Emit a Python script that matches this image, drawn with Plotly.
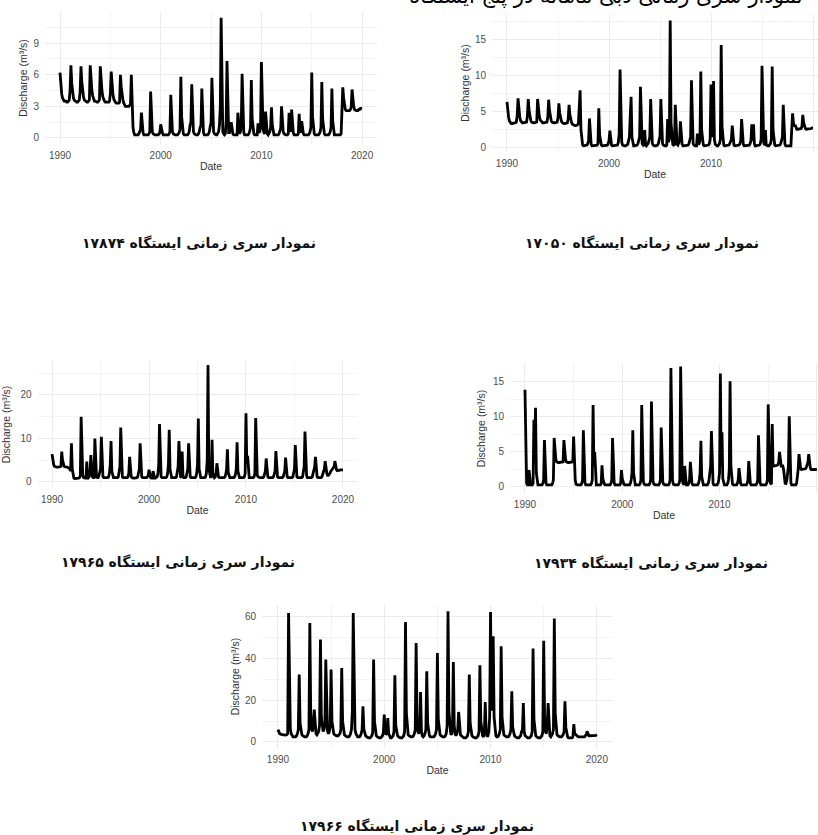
import plotly.graph_objects as go

W, H = 818, 835

# Monthly discharge (m³/s), one row per year 1990..2019 (Jan..Dec), plus Jan 2020
q_17874 = [
    [6.2, 5.0, 4.2, 3.8, 3.6, 3.5, 3.5, 3.5, 3.4, 3.4, 3.5, 3.6],
    [4.5, 6.9, 5.2, 4.3, 3.8, 3.6, 3.5, 3.5, 3.4, 3.4, 3.5, 3.6],
    [4.4, 6.8, 5.3, 4.4, 3.9, 3.6, 3.5, 3.5, 3.4, 3.4, 3.5, 3.6],
    [6.9, 5.4, 4.5, 4.0, 3.7, 3.5, 3.5, 3.4, 3.4, 3.4, 3.5, 3.6],
    [6.8, 5.4, 4.5, 3.9, 3.6, 3.5, 3.4, 3.4, 3.4, 3.4, 3.4, 3.5],
    [4.2, 6.3, 5.0, 4.2, 3.7, 3.5, 3.4, 3.3, 3.3, 3.3, 3.3, 3.4],
    [6.0, 4.8, 4.0, 3.6, 3.3, 3.1, 3.0, 3.0, 3.0, 3.0, 3.0, 3.1],
    [3.2, 6.0, 2.5, 1.0, 0.5, 0.3, 0.3, 0.3, 0.3, 0.3, 0.4, 0.6],
    [0.8, 2.4, 1.2, 0.5, 0.3, 0.3, 0.3, 0.3, 0.3, 0.3, 0.4, 0.6],
    [4.4, 1.5, 0.6, 0.4, 0.3, 0.3, 0.3, 0.3, 0.3, 0.3, 0.4, 0.5],
    [1.3, 0.8, 0.5, 0.3, 0.3, 0.3, 0.3, 0.3, 0.3, 0.3, 0.4, 0.6],
    [4.1, 1.6, 0.6, 0.4, 0.3, 0.3, 0.3, 0.3, 0.3, 0.4, 0.5, 0.8],
    [5.8, 2.0, 0.8, 0.4, 0.3, 0.3, 0.3, 0.3, 0.3, 0.4, 0.6, 1.2],
    [1.5, 5.1, 1.4, 0.6, 0.4, 0.3, 0.3, 0.3, 0.3, 0.4, 0.6, 1.0],
    [1.2, 4.7, 1.3, 0.5, 0.3, 0.3, 0.3, 0.3, 0.3, 0.4, 0.6, 1.1],
    [1.4, 5.7, 1.6, 0.6, 0.4, 0.3, 0.3, 0.3, 0.4, 0.6, 1.2, 2.9],
    [11.4, 2.0, 0.6, 0.4, 0.3, 0.4, 1.5, 7.3, 1.2, 0.5, 0.5, 0.8],
    [1.5, 0.8, 0.4, 0.3, 0.3, 0.3, 0.3, 0.3, 2.4, 0.6, 0.4, 0.6],
    [1.2, 6.1, 1.4, 0.5, 0.3, 0.3, 0.3, 0.3, 0.3, 0.4, 0.6, 1.0],
    [5.5, 1.8, 0.6, 0.4, 0.3, 0.3, 0.3, 0.3, 1.4, 0.5, 0.6, 1.2],
    [7.2, 2.2, 0.8, 0.5, 0.4, 2.5, 0.8, 0.4, 0.3, 0.4, 0.6, 1.0],
    [2.9, 1.2, 0.5, 0.3, 0.3, 0.3, 0.3, 0.3, 0.3, 0.4, 0.6, 0.9],
    [3.0, 1.4, 0.6, 0.4, 0.3, 0.3, 0.3, 0.3, 0.4, 2.4, 0.8, 0.6],
    [2.7, 1.2, 0.5, 0.3, 0.3, 0.3, 0.3, 0.3, 0.4, 2.3, 0.8, 0.5],
    [1.6, 0.7, 0.4, 0.3, 0.3, 0.3, 0.3, 0.3, 0.3, 0.4, 0.6, 1.0],
    [6.2, 2.0, 0.7, 0.4, 0.3, 0.3, 0.3, 0.3, 0.3, 0.4, 0.6, 1.0],
    [5.3, 1.8, 0.6, 0.4, 0.3, 0.3, 0.3, 0.3, 0.3, 0.4, 0.6, 1.0],
    [4.7, 1.6, 0.6, 0.3, 0.3, 0.3, 0.3, 0.3, 0.3, 0.3, 0.3, 0.4],
    [2.8, 4.8, 3.8, 3.0, 2.7, 2.6, 2.6, 2.6, 2.6, 2.6, 2.7, 2.9],
    [4.6, 3.6, 3.0, 2.7, 2.6, 2.6, 2.6, 2.6, 2.7, 2.7, 2.8, 2.8],
]
q_17874_last = 2.8

q_17050 = [
    [6.4, 5.0, 4.2, 3.7, 3.5, 3.4, 3.4, 3.4, 3.4, 3.4, 3.5, 3.6],
    [4.5, 6.9, 5.3, 4.3, 3.8, 3.6, 3.5, 3.5, 3.5, 3.5, 3.5, 3.6],
    [4.4, 6.8, 5.2, 4.3, 3.8, 3.6, 3.5, 3.5, 3.5, 3.5, 3.5, 3.6],
    [6.8, 5.3, 4.4, 3.9, 3.7, 3.6, 3.5, 3.5, 3.5, 3.5, 3.5, 3.6],
    [4.3, 6.7, 5.2, 4.3, 3.8, 3.6, 3.5, 3.5, 3.5, 3.5, 3.5, 3.6],
    [4.2, 6.2, 4.9, 4.1, 3.7, 3.5, 3.4, 3.4, 3.4, 3.4, 3.4, 3.5],
    [4.0, 6.0, 4.6, 3.9, 3.5, 3.3, 3.2, 3.1, 3.1, 3.1, 3.1, 3.2],
    [3.4, 5.5, 8.0, 2.5, 0.8, 0.4, 0.3, 0.3, 0.3, 0.3, 0.4, 0.6],
    [1.0, 4.1, 1.2, 0.5, 0.3, 0.3, 0.3, 0.3, 0.3, 0.3, 0.4, 0.6],
    [5.5, 1.8, 0.6, 0.4, 0.3, 0.3, 0.3, 0.3, 0.3, 0.3, 0.4, 0.6],
    [1.0, 2.4, 0.8, 0.4, 0.3, 0.3, 0.3, 0.3, 0.3, 0.3, 0.4, 0.8],
    [2.0, 10.9, 6.0, 0.8, 0.4, 0.3, 0.3, 0.3, 0.3, 0.4, 0.5, 1.2],
    [1.5, 4.5, 7.1, 1.5, 0.5, 0.3, 0.3, 0.3, 0.3, 0.4, 0.6, 1.0],
    [1.5, 8.5, 2.0, 0.6, 0.4, 0.3, 2.5, 0.5, 0.3, 0.4, 0.6, 1.0],
    [1.5, 6.8, 1.8, 0.6, 0.4, 0.3, 0.3, 0.3, 0.3, 0.4, 0.6, 1.0],
    [1.6, 6.8, 1.8, 0.6, 0.4, 0.3, 0.3, 0.3, 0.4, 4.0, 0.8, 1.2],
    [17.7, 3.5, 1.0, 0.5, 0.4, 0.5, 6.0, 1.2, 0.5, 0.4, 0.6, 1.0],
    [3.7, 1.2, 0.5, 0.3, 0.3, 0.3, 0.3, 0.3, 0.3, 0.4, 0.6, 1.0],
    [1.5, 9.4, 2.0, 0.6, 0.4, 0.3, 0.3, 0.3, 2.0, 0.5, 0.6, 1.0],
    [10.6, 2.5, 0.8, 0.4, 0.3, 0.3, 0.3, 0.3, 0.3, 0.4, 0.6, 1.2],
    [8.8, 2.5, 1.5, 9.3, 1.2, 0.5, 0.3, 0.3, 0.3, 0.4, 0.6, 1.2],
    [14.3, 3.0, 0.8, 0.4, 0.3, 0.3, 0.3, 0.3, 0.3, 0.4, 0.6, 1.0],
    [1.2, 3.1, 1.0, 0.4, 0.3, 0.3, 0.3, 0.3, 0.3, 0.4, 0.6, 1.0],
    [4.0, 1.4, 0.5, 0.3, 0.3, 0.3, 0.3, 0.3, 0.3, 0.4, 0.6, 1.0],
    [3.3, 1.0, 3.3, 0.6, 0.3, 0.3, 0.3, 0.3, 0.3, 0.4, 0.6, 1.2],
    [11.4, 2.5, 0.8, 0.4, 2.5, 0.4, 0.3, 0.3, 0.3, 0.4, 0.6, 1.2],
    [11.3, 2.5, 0.8, 0.4, 0.3, 0.3, 0.3, 0.3, 0.3, 0.4, 0.6, 1.0],
    [1.5, 6.0, 1.5, 0.5, 0.3, 0.3, 0.3, 0.3, 0.3, 0.3, 0.3, 2.6],
    [4.8, 3.5, 3.0, 3.2, 2.7, 2.6, 2.6, 2.6, 2.6, 2.6, 2.7, 3.0],
    [4.6, 3.5, 2.9, 2.7, 2.6, 2.6, 2.6, 2.7, 2.7, 2.7, 2.7, 2.8],
]
q_17050_last = 2.8

q_17965 = [
    [6.4, 5.0, 4.0, 3.6, 3.5, 3.4, 3.4, 3.4, 3.4, 3.4, 3.5, 3.6],
    [7.0, 5.0, 4.0, 3.6, 3.5, 3.4, 3.4, 3.4, 3.3, 3.2, 3.0, 2.5],
    [8.9, 3.0, 1.2, 0.9, 0.8, 0.8, 0.8, 0.8, 0.8, 0.9, 1.0, 1.5],
    [15.0, 4.0, 1.5, 1.0, 0.9, 0.9, 0.9, 4.7, 1.5, 1.0, 1.2, 2.0],
    [6.2, 3.0, 1.2, 1.0, 1.0, 10.0, 2.0, 1.2, 1.0, 1.0, 1.5, 2.5],
    [3.0, 10.4, 3.0, 1.2, 1.0, 1.0, 1.0, 1.0, 1.0, 1.0, 1.2, 2.0],
    [4.0, 9.4, 2.5, 1.2, 1.0, 1.0, 1.0, 1.0, 1.0, 1.0, 1.2, 2.0],
    [3.5, 12.5, 3.0, 1.2, 1.0, 1.0, 1.0, 1.0, 1.0, 1.0, 1.2, 2.0],
    [5.8, 2.5, 1.2, 1.0, 0.9, 0.9, 0.9, 0.9, 0.9, 1.0, 1.2, 2.0],
    [3.0, 8.9, 2.5, 1.2, 1.0, 1.0, 1.0, 1.0, 1.0, 1.0, 1.2, 1.5],
    [2.8, 1.5, 1.0, 0.9, 0.9, 2.5, 1.2, 0.9, 0.9, 1.0, 1.2, 1.8],
    [4.0, 13.3, 3.0, 1.2, 1.0, 1.0, 1.0, 1.0, 1.0, 1.0, 1.2, 2.0],
    [4.0, 12.0, 3.0, 1.2, 1.0, 1.0, 1.0, 1.0, 1.0, 1.0, 1.2, 2.0],
    [3.5, 9.4, 2.5, 1.2, 1.0, 7.0, 1.5, 1.0, 1.0, 1.0, 1.2, 2.0],
    [3.0, 8.9, 2.5, 1.2, 1.0, 1.0, 1.0, 1.0, 1.0, 1.0, 1.2, 2.0],
    [4.0, 14.6, 3.0, 1.2, 1.0, 1.0, 1.0, 1.0, 1.0, 1.0, 1.2, 2.0],
    [5.0, 26.9, 3.0, 1.5, 1.2, 1.2, 9.7, 2.0, 1.2, 1.0, 1.2, 2.0],
    [4.3, 2.5, 1.2, 1.0, 1.0, 1.0, 1.0, 1.0, 1.0, 1.0, 1.2, 1.8],
    [3.0, 7.5, 2.2, 1.2, 1.0, 1.0, 1.0, 1.0, 1.0, 1.0, 1.2, 1.8],
    [3.0, 9.1, 2.5, 1.2, 1.0, 1.0, 1.0, 1.0, 1.0, 1.0, 1.2, 2.0],
    [15.8, 4.5, 6.0, 1.5, 1.0, 1.0, 1.0, 1.0, 1.0, 1.0, 1.2, 2.0],
    [14.7, 4.0, 1.5, 1.2, 1.0, 1.0, 1.0, 1.0, 1.0, 1.0, 1.2, 2.0],
    [2.5, 5.4, 2.0, 1.2, 1.0, 1.0, 1.0, 1.0, 1.0, 1.0, 1.2, 2.0],
    [2.5, 7.1, 2.0, 1.2, 1.0, 1.0, 1.0, 1.0, 1.0, 1.0, 1.2, 1.8],
    [2.5, 5.6, 2.0, 1.2, 1.0, 1.0, 1.0, 1.0, 1.0, 1.0, 1.2, 2.0],
    [3.0, 8.5, 2.5, 1.2, 1.0, 1.0, 1.0, 1.0, 1.0, 1.0, 1.2, 2.0],
    [3.5, 11.6, 4.0, 1.5, 1.0, 1.0, 1.0, 1.0, 1.0, 1.0, 1.2, 2.0],
    [2.5, 3.5, 5.8, 2.0, 1.2, 1.0, 1.0, 1.0, 1.0, 1.0, 1.2, 2.0],
    [2.5, 3.0, 4.8, 3.0, 2.0, 1.5, 1.5, 1.8, 2.0, 2.5, 2.8, 3.0],
    [3.2, 3.5, 4.8, 3.5, 2.8, 2.6, 2.6, 2.6, 2.7, 2.8, 2.8, 2.8],
]
q_17965_last = 2.8

q_17934 = [
    [13.9, 3.0, 0.5, 0.3, 0.3, 2.4, 0.5, 0.3, 0.3, 0.3, 0.5, 9.6],
    [5.0, 11.3, 2.0, 0.6, 0.3, 0.3, 0.3, 0.3, 0.3, 0.3, 0.5, 1.0],
    [6.7, 1.5, 0.5, 0.3, 0.3, 0.3, 0.3, 0.3, 0.3, 0.3, 0.5, 1.0],
    [7.0, 5.0, 4.0, 3.6, 3.5, 3.5, 3.5, 3.5, 3.5, 3.5, 3.5, 3.6],
    [6.7, 5.0, 4.0, 3.6, 3.5, 3.5, 3.5, 3.5, 3.5, 3.5, 3.5, 3.6],
    [7.2, 3.0, 1.0, 0.4, 0.3, 0.3, 0.3, 0.3, 0.3, 0.3, 0.5, 1.0],
    [8.1, 2.0, 0.6, 0.3, 0.3, 0.3, 0.3, 0.3, 0.3, 0.3, 0.5, 1.0],
    [11.7, 3.0, 5.0, 0.8, 0.3, 0.3, 0.3, 0.3, 0.3, 0.3, 0.5, 3.1],
    [1.2, 0.6, 0.4, 0.3, 0.3, 0.3, 0.3, 0.3, 0.3, 0.3, 0.5, 1.0],
    [7.0, 1.8, 0.6, 0.3, 0.3, 0.3, 0.3, 0.3, 0.3, 0.3, 0.5, 2.4],
    [1.2, 0.6, 0.4, 0.3, 0.3, 0.3, 0.3, 0.3, 0.3, 0.3, 0.5, 1.0],
    [2.0, 8.1, 2.0, 0.6, 0.3, 0.3, 0.3, 0.3, 0.3, 0.3, 0.5, 1.0],
    [11.7, 2.5, 0.8, 0.4, 0.3, 0.3, 0.3, 0.3, 0.3, 0.3, 0.5, 1.0],
    [12.2, 2.5, 0.8, 0.4, 0.3, 0.3, 0.3, 0.3, 0.3, 0.3, 0.5, 1.0],
    [8.5, 2.0, 0.7, 0.4, 0.3, 0.3, 0.3, 0.3, 0.3, 0.3, 0.5, 1.0],
    [17.0, 3.5, 1.0, 0.4, 0.3, 0.3, 0.3, 0.3, 0.3, 0.3, 0.5, 1.0],
    [17.2, 3.5, 1.0, 0.5, 0.3, 3.0, 0.8, 0.3, 0.3, 0.3, 0.5, 1.0],
    [3.6, 1.2, 0.5, 0.3, 0.3, 0.3, 0.3, 0.3, 0.3, 0.3, 0.5, 1.0],
    [2.0, 6.6, 1.5, 0.5, 0.3, 0.3, 0.3, 0.3, 0.3, 0.3, 0.5, 1.0],
    [2.0, 3.0, 8.0, 1.5, 0.5, 0.3, 0.3, 0.3, 0.3, 0.3, 0.5, 1.0],
    [2.0, 16.2, 3.0, 7.8, 1.2, 0.4, 0.3, 0.3, 0.3, 0.3, 0.5, 1.0],
    [2.5, 15.1, 3.0, 0.8, 0.4, 0.3, 0.3, 0.3, 0.3, 0.3, 0.5, 1.0],
    [2.7, 1.2, 0.5, 0.3, 0.3, 0.3, 0.3, 0.3, 0.3, 0.3, 0.5, 1.0],
    [3.7, 1.2, 0.5, 0.3, 0.3, 0.3, 0.3, 0.3, 0.3, 0.3, 0.5, 1.0],
    [7.4, 2.0, 0.6, 0.3, 0.3, 0.3, 0.3, 0.3, 0.3, 0.3, 0.5, 1.0],
    [11.8, 3.0, 1.0, 0.5, 0.4, 9.0, 3.0, 3.0, 3.0, 3.0, 3.0, 3.1],
    [3.2, 3.5, 5.0, 3.5, 3.0, 3.0, 3.0, 2.5, 1.0, 0.4, 0.5, 1.0],
    [2.0, 3.0, 10.1, 2.0, 0.6, 0.3, 0.3, 0.3, 0.3, 0.3, 0.3, 0.5],
    [1.5, 2.5, 4.7, 3.2, 2.7, 2.5, 2.5, 2.5, 2.5, 2.5, 2.6, 2.8],
    [3.2, 3.5, 4.7, 3.3, 2.7, 2.5, 2.5, 2.5, 2.5, 2.5, 2.5, 2.5],
]
q_17934_last = 2.5

q_17966 = [
    [5.9, 4.5, 4.0, 3.8, 3.6, 3.5, 3.4, 3.4, 3.3, 3.3, 3.5, 4.0],
    [61.9, 15.0, 6.0, 4.0, 3.0, 2.5, 2.5, 2.5, 2.5, 3.0, 4.0, 6.0],
    [32.3, 9.0, 5.0, 3.5, 3.0, 2.5, 2.5, 2.5, 2.5, 3.0, 4.0, 6.0],
    [57.1, 14.0, 6.0, 5.0, 8.0, 15.5, 6.0, 4.0, 3.5, 4.0, 5.0, 8.0],
    [49.1, 12.0, 6.0, 5.0, 6.0, 8.0, 39.5, 10.0, 5.0, 4.0, 5.0, 8.0],
    [34.7, 10.0, 5.0, 4.0, 3.5, 3.0, 3.0, 3.0, 3.0, 3.5, 4.0, 6.0],
    [35.5, 10.0, 5.0, 3.5, 3.0, 2.5, 2.5, 2.5, 2.5, 3.0, 4.0, 6.0],
    [15.0, 61.9, 14.0, 6.0, 4.0, 3.0, 2.5, 2.5, 2.5, 3.0, 4.0, 6.0],
    [17.1, 6.0, 4.0, 3.0, 2.5, 2.0, 2.0, 2.0, 2.0, 2.5, 3.0, 4.5],
    [39.5, 10.0, 4.5, 3.0, 2.5, 2.0, 2.0, 2.0, 2.0, 2.5, 3.0, 4.5],
    [13.1, 5.0, 3.5, 4.0, 11.5, 4.0, 2.5, 2.0, 2.0, 2.5, 3.0, 5.0],
    [32.0, 8.0, 4.0, 3.0, 2.5, 2.0, 2.0, 2.0, 2.0, 2.5, 3.0, 5.0],
    [57.6, 14.0, 5.0, 3.5, 3.0, 2.5, 2.5, 2.5, 2.5, 3.0, 4.0, 6.0],
    [47.5, 12.0, 5.0, 4.0, 6.0, 24.0, 5.0, 3.0, 2.5, 3.0, 4.0, 6.0],
    [33.9, 9.0, 4.5, 3.0, 2.5, 2.5, 2.5, 2.5, 2.5, 3.0, 4.0, 6.0],
    [42.7, 11.0, 5.0, 3.5, 3.0, 2.5, 2.5, 2.5, 2.5, 3.0, 4.0, 8.0],
    [62.7, 15.0, 6.0, 4.0, 3.5, 6.0, 38.4, 8.0, 4.0, 3.0, 4.0, 6.0],
    [14.4, 6.0, 3.5, 3.0, 2.5, 2.0, 2.0, 2.0, 2.0, 2.5, 3.0, 5.0],
    [32.3, 9.0, 4.0, 3.0, 2.5, 2.0, 2.0, 2.0, 2.0, 2.5, 3.0, 5.0],
    [36.8, 10.0, 4.5, 3.0, 2.5, 4.0, 19.2, 5.0, 3.0, 3.0, 5.0, 12.0],
    [62.3, 20.0, 15.0, 50.7, 12.0, 5.0, 3.0, 2.5, 2.5, 3.0, 4.0, 6.0],
    [45.9, 12.0, 5.0, 3.5, 3.0, 2.5, 2.5, 2.5, 2.5, 3.0, 4.0, 6.0],
    [24.3, 7.0, 4.0, 3.0, 2.5, 2.0, 2.0, 2.0, 2.0, 2.5, 3.0, 5.0],
    [5.0, 18.7, 5.0, 3.0, 2.5, 2.0, 2.0, 2.0, 2.0, 2.5, 3.0, 5.0],
    [44.8, 11.0, 4.5, 3.0, 2.5, 2.0, 2.0, 2.0, 2.0, 2.5, 3.0, 5.0],
    [48.6, 12.0, 5.0, 4.0, 8.0, 18.7, 5.0, 3.0, 2.5, 3.0, 4.0, 6.0],
    [59.2, 14.0, 5.0, 3.5, 3.0, 2.5, 2.5, 2.5, 2.5, 3.0, 3.5, 5.0],
    [19.5, 7.0, 3.5, 2.5, 2.0, 2.0, 2.0, 2.0, 2.0, 2.5, 8.6, 4.0],
    [3.5, 3.0, 2.5, 2.5, 2.5, 2.5, 2.5, 2.5, 2.5, 2.5, 2.5, 3.0],
    [3.5, 5.1, 3.5, 3.0, 3.0, 3.0, 3.0, 3.0, 3.0, 3.0, 3.0, 3.2],
]
q_17966_last = 3.5

start_year = 1990
x_ticks = [1990, 2000, 2010, 2020]
y_title = "Discharge (m³/s)"
x_title = "Date"
caption_prefix = "نمودار سری زمانی ایستگاه "
header_text = "نمودار سری زمانی دبی ماهانه در پنج ایستگاه"


def series(rows, last):
    xs, ys = [], []
    for i, row in enumerate(rows):
        for m, v in enumerate(row):
            xs.append(start_year + i + m / 12.0)
            ys.append(v)
    xs.append(start_year + len(rows))
    ys.append(last)
    return xs, ys


def px_x(v):
    return v / W


def px_y(v):
    return 1 - v / H


# panel layout in pixels: (left, top, right, bottom)
panels = [
    dict(rows=q_17874, last=q_17874_last, code="۱۷۸۷۴", box=(45, 12, 377, 144),
         xr=(1988.51, 2021.48), yr=(-0.57, 11.95), dy=3, cap=(199, 244), ys=3),
    dict(rows=q_17050, last=q_17050_last, code="۱۷۰۵۰", box=(492, 14, 818, 152),
         xr=(1988.53, 2020.49), yr=(-0.56, 18.6), dy=5, cap=(642, 244), ys=3),
    dict(rows=q_17965, last=q_17965_last, code="۱۷۹۶۵", box=(37.5, 361, 357.5, 488),
         xr=(1988.5, 2021.5), yr=(-1.38, 27.8), dy=10, cap=(178, 562), ys=9),
    dict(rows=q_17934, last=q_17934_last, code="۱۷۹۳۴", box=(510, 364, 818, 493),
         xr=(1988.46, 2020.12), yr=(-0.86, 17.57), dy=5, cap=(651, 563), ys=5),
    dict(rows=q_17966, last=q_17966_last, code="۱۷۹۶۶", box=(262, 605, 613, 748),
         xr=(1988.5, 2021.52), yr=(-2.88, 65.7), dy=20, cap=(417, 826), ys=3),
]

fig = go.Figure()
annotations = []
axis_font = dict(family="Liberation Sans, Arial, sans-serif", size=10, color="#4D4D4D")
title_font = dict(family="Liberation Sans, Arial, sans-serif", size=10.5, color="#333333")
major_grid = "#EBEBEB"
minor_grid = "#F4F4F4"

for i, p in enumerate(panels, start=1):
    xs, ys = series(p["rows"], p["last"])
    xa = "x" if i == 1 else f"x{i}"
    ya = "y" if i == 1 else f"y{i}"
    fig.add_trace(go.Scatter(
        x=xs, y=ys, mode="lines", xaxis=xa, yaxis=ya,
        line=dict(color="#000000", width=2.8), showlegend=False,
        hoverinfo="skip",
    ))
    l, t, r, b = p["box"]
    xkey = "xaxis" if i == 1 else f"xaxis{i}"
    ykey = "yaxis" if i == 1 else f"yaxis{i}"
    fig.layout[xkey] = dict(
        domain=[px_x(l), min(1.0, px_x(r))], anchor=ya, range=list(p["xr"]),
        tickmode="array", tickvals=x_ticks, ticktext=[str(v) for v in x_ticks],
        showgrid=True, gridcolor=major_grid, gridwidth=1,
        minor=dict(tickmode="array", tickvals=[1995, 2005, 2015], showgrid=True,
                   gridcolor=minor_grid, gridwidth=0.8),
        zeroline=False, showline=False, ticks="", tickfont=axis_font,
        ticklabelstandoff=4,
        title=dict(text=x_title, font=title_font, standoff=2),
        fixedrange=True,
    )
    fig.layout[ykey] = dict(
        domain=[px_y(b), px_y(t)], anchor=xa, range=list(p["yr"]),
        tick0=0, dtick=p["dy"], tickmode="linear",
        showgrid=True, gridcolor=major_grid, gridwidth=1,
        minor=dict(tick0=p["dy"] / 2, dtick=p["dy"], showgrid=True,
                   gridcolor=minor_grid, gridwidth=0.8),
        zeroline=False, showline=False, ticks="", tickfont=axis_font,
        ticklabelstandoff=5,
        title=dict(text=y_title, font=title_font, standoff=p["ys"]),
        fixedrange=True,
    )
    cx, cy = p["cap"]
    annotations.append(dict(
        x=px_x(cx), y=px_y(cy), xref="paper", yref="paper",
        xanchor="center", yanchor="middle", showarrow=False,
        text="<b>" + caption_prefix + p["code"] + "</b>",
        font=dict(family="DejaVu Sans, Noto Sans, sans-serif", size=14, color="#111111"),
    ))

annotations.append(dict(
    x=px_x(606), y=px_y(-4), xref="paper", yref="paper",
    xanchor="center", yanchor="middle", showarrow=False,
    text=header_text,
    font=dict(family="DejaVu Sans, sans-serif", size=21, color="#000000"),
))

fig.update_layout(
    width=W, height=H, margin=dict(l=0, r=0, t=0, b=0),
    paper_bgcolor="white", plot_bgcolor="white",
    annotations=annotations, showlegend=False,
)

fig.write_html("out.html", config={"displayModeBar": False})
